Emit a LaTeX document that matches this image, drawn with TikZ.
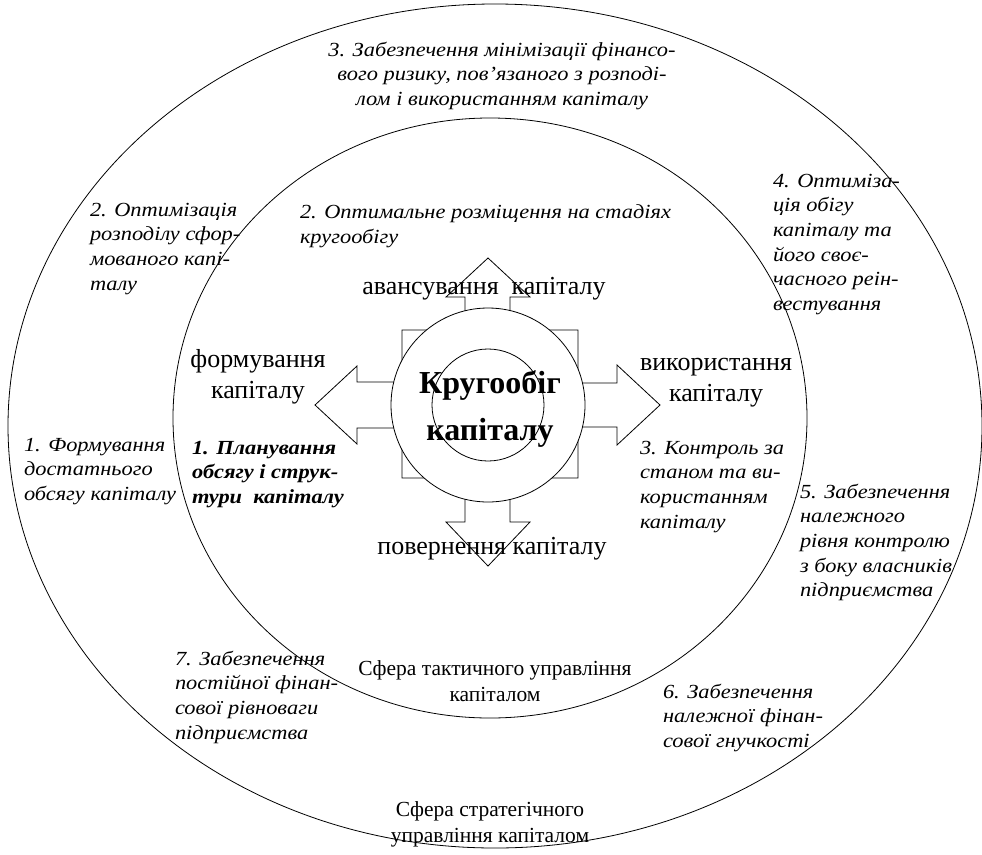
\documentclass[tikz,border=0pt]{standalone}
\usepackage{fontspec}
\setmainfont{Liberation Serif}
\newfontfamily\notefont[FakeStretch=1.12]{Liberation Serif}

\begin{document}
\begin{tikzpicture}[x=1pt,y=-1pt,
    every node/.style={inner sep=0pt,outer sep=0pt},
    note/.style={anchor=north west,align=left,font=\notefont\fontsize{20}{24.6}\selectfont\itshape},
    stage/.style={align=center,font=\fontsize{26}{31}\selectfont},
    sphere/.style={align=center,font=\fontsize{21.5}{26}\selectfont}]
    \useasboundingbox (0,0) rectangle (982,854);

    % spheres
    \draw[thick] (495,426) ellipse [x radius=487, y radius=422];
    \draw[thick] (490,418) ellipse [x radius=317, y radius=300];

    % cross of arrows
    \draw[thick,fill=white] (402,330) -- (465,330) -- (465,297) -- (446,297) -- (488,258)
      -- (530,297) -- (510,297) -- (510,330) -- (578,330) -- (578,383) -- (617,383)
      -- (617,365) -- (660,405) -- (617,445) -- (617,427) -- (578,427) -- (578,478)
      -- (510,478) -- (510,522) -- (530,522) -- (488,566) -- (446,522) -- (465,522)
      -- (465,478) -- (402,478) -- (402,428) -- (357,428) -- (357,444) -- (315,405)
      -- (357,366) -- (357,382) -- (402,382) -- cycle;
    \draw[thick,fill=white] (488,405) circle (97);
    \draw[thick,fill=white] (488,405) circle (56);

    \node[align=center,font=\fontsize{32}{47}\selectfont\bfseries] (core) at (490,409) {Кругообіг\\капіталу};

    \node[stage] (adv) at (484,289) {авансування\ \ капіталу};
    \node[stage] (form) at (258,377) {формування\\капіталу};
    \node[stage] (use) at (716,383) {використання\\капіталу};
    \node[stage] (ret) at (492,549) {повернення капіталу};

    % tactical sphere
    \node[note] (t2) at (300,205) {2. Оптимальне розміщення на стадіях\\кругообігу};
    \node[note,font=\notefont\fontsize{20}{24.6}\selectfont\bfseries\itshape] (t1) at (192,441) {1. Планування\\обсягу і струк-\\тури\ \ капіталу};
    \node[note] (t3) at (640,441) {3. Контроль за\\станом та ви-\\користанням\\капіталу};
    \node[sphere] (tac) at (495,681) {Сфера тактичного управління\\капіталом};

    % strategic sphere
    \node[note,align=center,anchor=north] (s3) at (502,42) {3. Забезпечення мінімізації фінансо-\\вого ризику, пов’язаного з розподі-\\лом і використанням капіталу};
    \node[note] (s2) at (90,203) {2. Оптимізація\\розподілу сфор-\\мованого капі-\\талу};
    \node[note] (s4) at (773,174) {4. Оптиміза-\\ція обігу\\капіталу та\\його своє-\\часного реін-\\вестування};
    \node[note] (s1) at (24,438) {1. Формування\\достатнього\\обсягу капіталу};
    \node[note] (s5) at (800,484) {5. Забезпечення\\належного\\рівня контролю\\з боку власників\\підприємства};
    \node[note] (s7) at (175,651) {7. Забезпечення\\постійної фінан-\\сової рівноваги\\підприємства};
    \node[note] (s6) at (663,684) {6. Забезпечення\\належної фінан-\\сової гнучкості};
    \node[sphere] (str) at (490,824) {Сфера стратегічного\\управління капіталом};
  \end{tikzpicture}
\end{document}
